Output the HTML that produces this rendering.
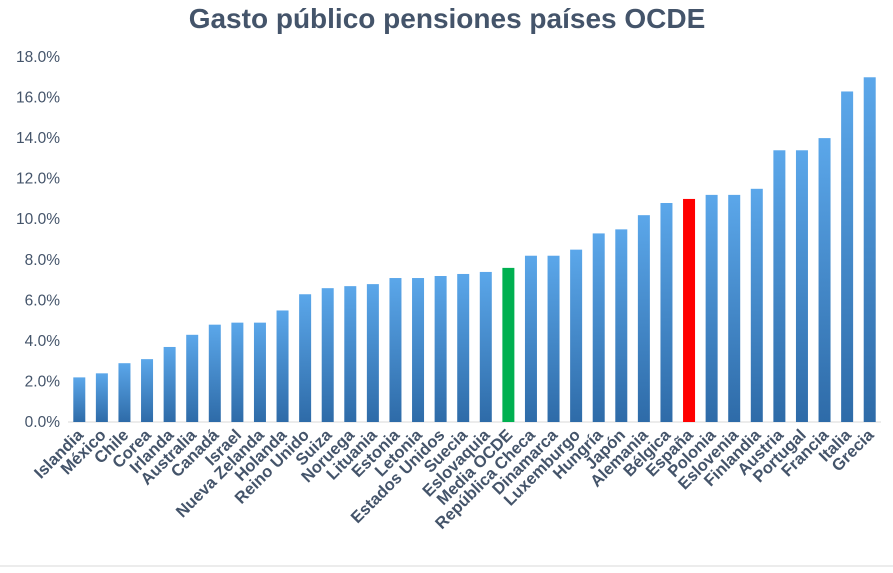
<!DOCTYPE html>
<html><head><meta charset="utf-8"><style>
body{margin:0;background:#fff;width:893px;height:568px;overflow:hidden;font-family:"Liberation Sans",sans-serif}
</style></head><body>
<svg width="893" height="568" id="c">
<defs><linearGradient id="gb" x1="0" y1="0" x2="0" y2="1"><stop offset="0" stop-color="#5ba7ea"/><stop offset="1" stop-color="#2e6ba8"/></linearGradient></defs>
<text x="447" y="28" text-anchor="middle" font-size="28" font-weight="bold" fill="#44546a">Gasto público pensiones países OCDE</text>
<line x1="68" y1="422" x2="881" y2="422" stroke="#d9d9d9" stroke-width="1"/>
<g id="bars"></g><g id="yt"></g><g id="xt"></g>
<line x1="0" y1="566" x2="893" y2="566" stroke="#d9d9d9"/>
</svg>
<script>
const categories=["Islandia","México","Chile","Corea","Irlanda","Australia","Canadá","Israel","Nueva Zelanda","Holanda","Reino Unido","Suiza","Noruega","Lituania","Estonia","Letonia","Estados Unidos","Suecia","Eslovaquia","Media OCDE","República Checa","Dinamarca","Luxemburgo","Hungría","Japón","Alemania","Bélgica","España","Polonia","Eslovenia","Finlandia","Austria","Portugal","Francia","Italia","Grecia"];
const values=[2.2,2.4,2.9,3.1,3.7,4.3,4.8,4.9,4.9,5.5,6.3,6.6,6.7,6.8,7.1,7.1,7.2,7.3,7.4,7.6,8.2,8.2,8.5,9.3,9.5,10.2,10.8,11.0,11.2,11.2,11.5,13.4,13.4,14.0,16.3,17.0];
const yTicks=[0,2,4,6,8,10,12,14,16,18];
const NS="http://www.w3.org/2000/svg";
const x0=68,x1=881,yBase=422,yTop=57,yMax=18;
const step=(x1-x0)/categories.length;
const xc=i=>x0+step*(i+0.5);
const y=v=>yBase-(v/yMax)*(yBase-yTop);
const bars=document.getElementById('bars'),yt=document.getElementById('yt'),xt=document.getElementById('xt');
function mk(t,a){const e=document.createElementNS(NS,t);for(const k in a)e.setAttribute(k,a[k]);return e;}
yTicks.forEach(v=>{const t=mk('text',{x:60,y:y(v)+5,'text-anchor':'end','font-size':15.5,fill:'#44546a'});t.textContent=v.toFixed(1)+'%';


yt.appendChild(t);});
categories.forEach((c,i)=>{const bw=12;let fill='url(#gb)';if(c==='Media OCDE')fill='#00b050';if(c==='España')fill='#ff0000';
const r=mk('rect',{x:xc(i)-bw/2,y:y(values[i]),width:bw,height:yBase-y(values[i]),fill:fill});


bars.appendChild(r);
const t=mk('text',{x:xc(i)+5,y:436,'text-anchor':'end','font-size':16.5,'font-weight':'bold',fill:'#44546a',transform:`rotate(-45 ${xc(i)+5} 436)`});t.textContent=c;


xt.appendChild(t);});
</script>
</body></html>
